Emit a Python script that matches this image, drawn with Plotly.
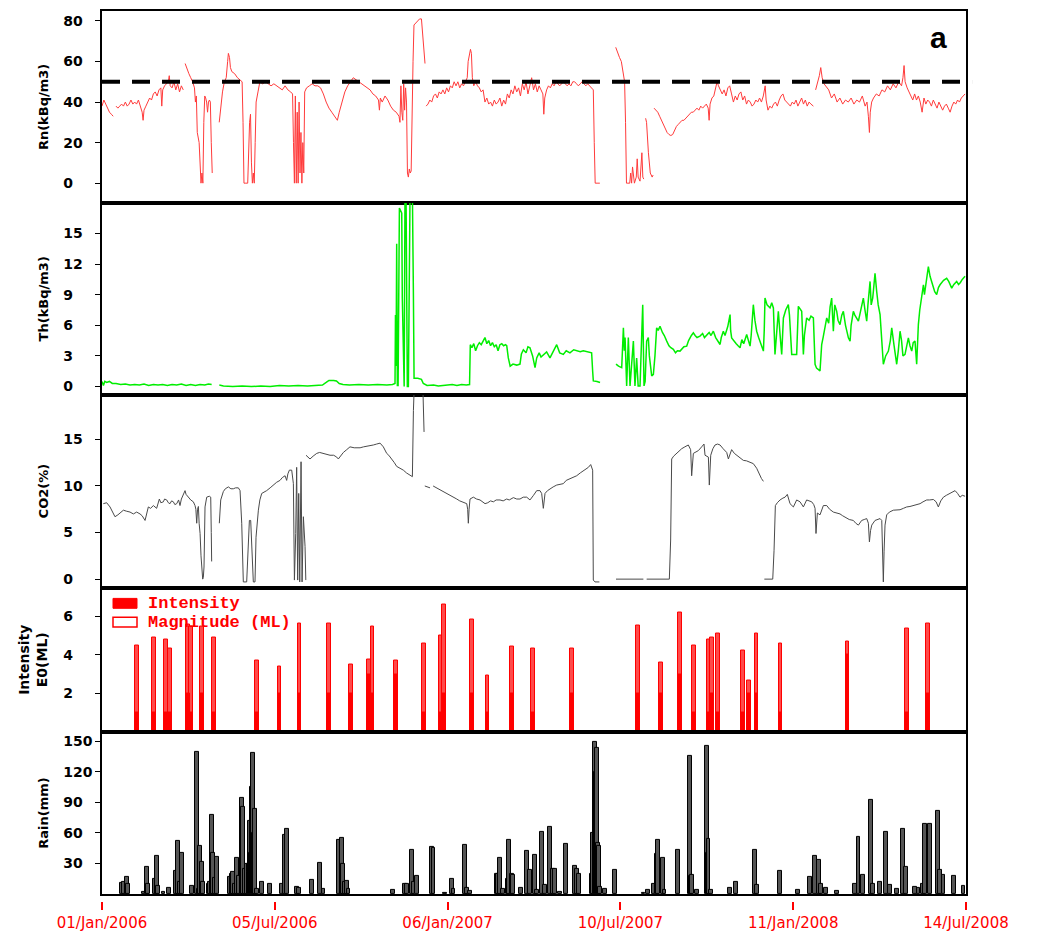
import plotly.graph_objects as go
import pandas as pd

START = pd.Timestamp("2006-01-01")
END = pd.Timestamp("2008-07-14")
DAY_MS = 86400000

# ---------------- data (day offset from 01/Jan/2006, value) ----------------
rn_points = [
(0,38),(2,41),(4,39),(6,37),(8,35),(10,34),(12,33),(13,None),
(15,38),(17,37),(19,38),(21,39),(23,38),(25,40),(27,38),(29,39),(31,41),(33,39),(35,40),(37,39),(39,41),(41,38),(43,35),(44,31),(45,36),(47,38),(49,40),(51,42),(53,41),(55,44),(57,45),(59,43),(61,46),(63,47),(64,38),(65,46),(67,48),(69,49),(71,50),(72,53),(73,48),(75,47),(77,50),(79,46),(81,49),(83,45),(85,48),(87,46),(88,None),
(89,59),(91,56),(93,54),(95,52),(97,50),(99,47),(100,40),(101,43),(102,25),(104,20),(106,0),(107,5),(108,0),(109,30),(110,43),(111,42),(112,40),(113,35),(114,40),(115,41),(116,40),(117,20),(118,5),(119,None),
(125.5,30),(127,38),(129,45),(131,50),(133,52),(134.5,60),(135.3,64),(136.5,62),(137.5,57),(139,55),(142,54),(145,52),(148,51),(150,50),(151,30),(152,0),(154,0),(156,0),(158,30),(159,34),(160,10),(161,0),(162,5),(163,0),(164,20),(165,40),(167,45),(169,50),(172,49),(175,50),(178,49),(181,48),(184,49),(187,48),(190,47),(193,46),(196,48),(199,46),(202,45),(204,44),(205,20),(206,0),(207,43),(208,0),(209,35),(210,0),(211,40),(212,5),(213,25),(214,0),(215,20),(216,5),(217,45),(219,47),(222,48),(225,49),(228,48),(231,48),(234,47),(237,44),(240,40),(243,37),(246,35),(249,33),(251,32),(252,31),(254,35),(256,38),(258,41),(260,45),(263,48),(266,50),(269,52),(272,51),(275,50),(278,49),(281,48),(284,47),(287,46),(290,44),(293,43),(296,41),(297,36),(298,42),(300,40),(303,43),(306,41),(309,38),(312,36),(315,35),(318,33),(319,30),(320,48),(321,35),(322,31),(323,49),(324,36),(325,47),(326,40),(327,5),(328,3),(329,7),(330,5),(331,6),(332,40),(333,60),(334,78),(336,79),(338,80),(340,81),(342,81),(343,75),(344,68),(345,62),(345.8,59),(346.2,None),
(347,38),(349,39),(351,41),(353,40),(355,43),(357,44),(359,42),(361,45),(363,44),(365,46),(367,44),(369,47),(371,45),(373,48),(375,47),(377,50),(379,48),(381,50),(383,47),(385,49),(387,48),(389,50),(391,52),(392,60),(393,62),(394.5,66),(395.5,64),(396.5,52),(398,48),(400,50),(402,48),(404,47),(406,45),(408,46),(410,40),(412,42),(414,39),(416,40),(418,38),(420,41),(422,39),(424,40),(426,42),(428,38),(430,41),(432,39),(434,44),(436,42),(438,46),(440,44),(442,48),(444,45),(446,47),(448,43),(450,49),(452,46),(454,50),(456,44),(458,48),(460,52),(462,46),(464,49),(466,45),(468,48),(470,46),(472,44),(473,34),(474,42),(476,46),(478,48),(480,47),(482,49),(484,48),(486,50),(488,49),(490,48),(492,49),(494,50),(496,49),(498,48),(500,49),(502,48),(504,50),(506,50),(508,49),(510,48),(512,49),(514,50),(516,49),(518,48),(520,49),(522,48),(524,47),(526,46),(527,20),(528,0),(530,0),(532,0),(533,0),(534,None),
(550,67),(552,64),(554,62),(556,60),(558,55),(559.5,50),(560.5,30),(561.5,0),(563,0),(565,0),(566,5),(567,0),(568,8),(569,3),(570,0),(572,3),(573,12),(574,3),(576,1),(578,15),(579,3),(580,2),(581,None),
(582,32),(583,30),(585,15),(587,5),(589,3),(590,4),(590.6,None),
(591,37),(593,36),(595,35),(597,33),(599,31),(601,29),(603,27),(605,25),(607,24),(609,23.5),(611,24),(613,26),(615,28),(617,29),(619,30),(621,31),(623,31),(625,32),(627,33),(629,34),(631,35),(633,35),(635,36),(637,37),(639,36),(641,38),(643,37),(645,38),(647,39),(649,37),(650,31),(651,39),(653,42),(655,43),(657,47),(658.5,50),(660,48),(662,46),(664,44),(666,46),(668,43),(670,47),(672,48),(674,44),(676,40),(678,43),(680,41),(682,44),(684,45),(686,41),(688,43),(690,39),(692,41),(694,40),(696,38),(698,39),(700,41),(702,40),(704,42),(706,40),(708,43),(710,48),(711,41),(713,36),(715,38),(717,37),(719,39),(721,40),(723,38),(725,41),(727,43),(729,44),(731,41),(733,40),(735,39),(737,38),(739,40),(741,39),(743,41),(745,38),(747,40),(749,42),(751,39),(753,41),(755,38),(757,40),(759,39),(761.6,38),(762.5,None),
(764,46),(766,49),(768,53),(769.5,57),(771,52),(773,49),(775,48),(778,46),(781,42),(784,44),(787,40),(790,42),(793,39),(796,41),(799,40),(802,42),(805,39),(808,41),(811,40),(814,43),(817,38),(819,40),(820.5,33),(821.6,25),(822.5,35),(824,40),(826,42),(829,44),(832,43),(835,46),(838,45),(841,48),(844,46),(847,49),(850,47),(853,50),(856,48),(857.5,52),(858.7,58),(859.8,50),(862,47),(864,45),(866,43),(868,41),(870,44),(872,41),(874,43),(876,40),(878,35),(880,42),(882,39),(884,41),(886,40),(888,38),(890,41),(892,39),(894,37),(896,40),(898,38),(900,36),(902,38),(904,39),(906,37),(908,35),(910,38),(912,40),(914,39),(916,41),(918,40),(920,42),(922,43),(924,44),
]
rn_threshold = 50

th_points = [
(0,0.5),(1.5,0.1),(3,0.5),(5,0.4),(8,0.5),(11,0.3),(15,0.3),(20,0.2),(25,0.25),(30,0.15),(35,0.2),(40,0.15),(45,0.25),(50,0.1),(55,0.2),(60,0.15),(65,0.2),(70,0.1),(75,0.2),(80,0.15),(85,0.25),(90,0.1),(95,0.2),(100,0.1),(105,0.2),(110,0.15),(114,0.25),(117.4,0.2),(118,None),
(125.6,0.15),(130,0.05),(140,0.0),(150,0.05),(160,0.0),(170,0.05),(180,0.0),(190,0.1),(200,0.05),(210,0.1),(220,0.05),(230,0.1),(236,0.15),(240,0.4),(243,0.6),(248,0.6),(251,0.55),(254,0.3),(258,0.2),(265,0.15),(275,0.2),(285,0.15),(295,0.2),(305,0.15),(311,0.2),(313.7,0.3),(314.2,7),(314.8,2),(315.5,14),(316.2,0.1),(317,0.1),(318.4,17.5),(319.5,17.3),(320.9,17),(321.5,8.7),(322.7,0),(323.5,0),(324.4,19),(325.5,19),(326.9,0),(328,0),(329.8,19),(331,19),(332.3,19),(333.4,9),(334.1,0.8),(338,0.8),(342,0.7),(344,0.3),(348,0.1),(355,0.15),(360,0.05),(365,0.1),(370,0.15),(375,0.2),(380,0.1),(385,0.2),(390,0.15),(393.5,0.2),(394.3,4.1),(396,3.8),(398,4.2),(400,3.5),(402,4.0),(404,4.3),(406,4.1),(408,4.5),(410,4.8),(412,4.2),(414,4.5),(416,4.0),(418,4.3),(420,3.9),(422,4.1),(424,3.5),(426,4.1),(428,4.2),(430,4.0),(432,4.1),(433.3,4.0),(435,2.8),(437,2.0),(440,2.2),(444,2.1),(447.5,2.2),(449,3.2),(451.1,3.6),(454,3.3),(456,3.9),(458.2,3.8),(461,3.0),(463.6,1.85),(465.4,2.8),(468,3.3),(470,2.9),(472.5,3.15),(476,3.4),(479.6,2.8),(483,3.5),(486.8,4.1),(490,3.3),(493.9,3.15),(497,3.5),(501,3.3),(505,3.6),(508.2,3.5),(512,3.4),(515.3,3.5),(520,3.4),(524.2,3.3),(525.3,1.5),(526,0.55),(530,0.5),(533.2,0.4),(534,None),
(550.3,2.2),(553,2.0),(556.4,1.85),(558.2,5.75),(559.2,3.5),(560,4.8),(561.7,0.06),(563.5,4.8),(565.3,0.06),(567.1,2.5),(568.9,4.45),(570.6,0.06),(572.4,2.8),(574,0.06),(576,0.06),(578.9,8.0),(580.3,0.06),(581.5,0.5),(583.1,4.45),(584.9,4.8),(586,3.0),(588.5,1.04),(590.3,1.2),(592,3.0),(593.8,5.75),(595.5,5.5),(597.4,5.9),(600,5.3),(602,5.0),(604.6,4.45),(607,4.0),(609,3.8),(611.7,3.64),(614,3.3),(616,3.5),(618.8,3.47),(621,3.7),(623,3.9),(626,3.96),(628,4.5),(631,5.0),(633.1,5.26),(635,5.0),(637,4.8),(640.2,4.94),(643,5.2),(645,4.8),(647.4,5.1),(650,5.3),(652,5.0),(654.5,5.42),(657,4.8),(659,4.5),(661.7,4.12),(663,4.8),(665.2,5.42),(667,5.0),(670,5.9),(672.4,7.05),(673,5.5),(674.1,4.77),(676,4.5),(679,4.2),(681,4.0),(683.1,3.8),(685,4.6),(687,4.2),(690.2,5.1),(692,4.5),(693.8,3.96),(695,5.0),(696.5,6.5),(697.3,8.02),(699,6.5),(700.9,5.42),(703,4.8),(705,4.2),(708.1,3.47),(709,5.5),(709.8,8.67),(712,8.0),(715.2,7.7),(717,8.2),(718.8,7.7),(720.5,3.15),(722,5.0),(724.1,7.37),(726,5.0),(727.7,3.15),(729.5,6.72),(732,7.5),(734.8,8.02),(736,7.0),(738.4,3.15),(741,3.15),(743.7,3.15),(745.5,7.86),(747,7.6),(749.1,7.37),(750.9,3.15),(752,5.0),(754.4,6.72),(757,6.5),(759,6.9),(761.6,6.72),(763.4,2.18),(765,1.8),(768.7,1.53),(770.5,4.12),(772,4.8),(775.9,6.72),(778,6.2),(779.5,7.8),(781.2,8.67),(783,5.42),(784.5,8.0),(786.6,7.37),(788,6.5),(790.1,6.07),(792,7.0),(793.7,7.37),(796,6.0),(799.1,4.77),(800.9,4.45),(802,6.0),(804.4,7.37),(806,7.0),(809.8,6.4),(812,7.5),(815.1,8.67),(817,7.4),(818.7,6.4),(820,8.0),(822.3,10.3),(823.5,8.0),(825.1,8.67),(826,9.5),(827.6,11.1),(829.4,9.3),(831,8.0),(833,7.05),(834.5,4.5),(836.5,2.18),(839,3.0),(841.9,3.47),(844,4.5),(845.5,5.75),(848,4.0),(850.8,2.18),(852.5,3.5),(854.4,5.42),(856,4.5),(857.5,3.0),(859.7,3.15),(861.5,4.0),(863.3,4.77),(865,4.0),(866.9,3.47),(868.5,4.3),(870.4,4.45),(872.2,2.18),(874,6.07),(875.5,7.5),(877.6,8.67),(879.4,9.97),(880.5,9.0),(882.5,10.5),(884.7,11.75),(886.5,10.8),(888.3,10.3),(890,9.8),(891.5,9.3),(893.6,9.0),(895.5,9.7),(897.2,9.97),(899,10.2),(901,10.4),(904.3,10.6),(906.5,10.3),(909.7,9.64),(912,10.0),(915,10.3),(917,10.0),(919,10.2),(921,10.5),(924,10.8),
]

co2_points = [
(1.4,8.1),(5,8.2),(8.6,7.75),(11,7.2),(13.9,6.7),(17,6.9),(20,7.2),(22.9,7.4),(26,7.3),(30,7.2),(33.6,7.0),(37.1,7.2),(40.7,7.0),(43,6.8),(46.1,6.3),(48,7.2),(49.6,7.75),(52,7.6),(55,7.9),(58.5,7.6),(60,8.2),(61.4,8.6),(63,8.2),(65.7,8.3),(67,8.6),(69.3,8.5),(71,8.2),(72.8,8.1),(74.5,8.4),(76.4,8.3),(78,8.0),(80,8.1),(82,8.5),(83.5,7.9),(85,8.6),(86.4,9.0),(88,9.4),(88.9,9.5),(90,9.1),(92.4,8.8),(95,8.5),(97.8,8.3),(99.6,7.9),(100.5,7.5),(101.4,6.0),(102.3,7.5),(103.2,7.8),(104,6.0),(105,4.9),(106,2.5),(106.7,1.0),(107.8,0.0),(108.5,0.2),(109.2,1.3),(110.3,7.75),(112.1,8.8),(114.9,8.9),(116.4,8.8),(117,5.0),(117.4,1.9),(118,None),
(125.6,6.0),(126.5,7.5),(127.1,8.5),(129.9,9.4),(132,9.7),(135.3,9.9),(138,9.7),(140.6,9.7),(143,9.8),(146,9.8),(147.8,9.5),(149.6,6.0),(150.5,2.0),(151.3,-0.3),(154.9,-0.3),(156.7,3.8),(157.8,6.3),(159.2,6.3),(160.6,1.7),(162,-0.3),(163.8,-0.3),(164.9,4.5),(167.4,7.4),(169,8.5),(171,9.2),(173,9.3),(176.3,9.5),(180,9.8),(183.5,10.1),(187,10.4),(190.6,10.6),(193,10.9),(196,11.1),(197.7,10.6),(199,11.3),(200.6,11.7),(203.1,11.7),(204.9,10.25),(206,-0.1),(207.4,4.9),(208.4,12.0),(209.5,-0.1),(210.6,9.2),(211.7,-0.3),(213.1,12.6),(214.2,-0.3),(215.6,6.7),(217.4,3.5),(218.2,-0.1),(218.3,None),
(218.4,13.3),(220.5,13.1),(222.7,12.9),(226,13.2),(229.9,13.5),(233,13.6),(237,13.5),(240,13.4),(244.1,13.3),(248,13.3),(251.3,13.1),(253,12.9),(255,13.2),(258.4,13.6),(262,13.9),(265.5,14.2),(270,14.1),(276.3,14.1),(280,14.2),(283.4,14.25),(287,14.3),(290.5,14.4),(294,14.5),(297.7,14.6),(301.2,14.2),(304.8,13.5),(307,13.3),(310.2,12.9),(313,12.5),(315.5,12.1),(319,11.9),(322.6,11.7),(326,11.4),(329.8,11.1),(332.3,11.0),(333.4,18.1),(334.4,21),(343.4,21),(344.1,18.0),(344.8,15.8),(345.2,None),
(345.6,10.0),(348,9.9),(351.2,9.8),(353,None),(354.5,10.0),(358.3,9.8),(362,9.6),(365.5,9.4),(369,9.2),(372.6,9.0),(376,8.8),(379.8,8.6),(383,8.4),(386.9,8.2),(390.5,8.1),(391.5,7.5),(392.2,6.0),(393,7.5),(394,8.6),(397.6,8.8),(401,8.6),(404.7,8.5),(407,8.3),(410.1,8.1),(413,8.2),(416,8.4),(419,8.3),(422,8.5),(426.1,8.5),(429.5,8.4),(433.2,8.6),(436,8.5),(440.4,8.75),(444,8.6),(447.5,8.6),(451,8.8),(454.7,8.8),(458.2,8.5),(462,9.0),(465.4,9.5),(468.9,9.5),(470.7,9.2),(472.5,7.6),(474.3,9.2),(477,9.5),(479.6,9.7),(483,9.9),(486.8,10.1),(490,10.2),(493.9,10.25),(497,10.6),(501,10.8),(504,10.9),(508.2,11.1),(512,11.4),(515.3,11.6),(518,11.8),(520.7,12.0),(523.2,12.3),(525.3,11.7),(526,-0.1),(527.8,-0.3),(532.5,-0.3),(533,None),
(550.3,0),(579.6,0),(580,None),(583.1,0),(607.4,0),(608.8,4.2),(609.9,12.9),(612,13.2),(615.3,13.5),(618,13.8),(620.6,14.0),(624,14.2),(627.7,14.4),(630.2,13.9),(631.3,11.1),(633.1,13.5),(636,13.7),(638.5,13.8),(642,14.2),(644.5,14.5),(645.6,13.3),(649.2,13.1),(650.2,10.1),(651.7,13.3),(654,14.0),(656.3,14.4),(659,14.5),(661.7,14.4),(665,14.0),(668.8,13.6),(670.6,12.9),(674.1,13.9),(677,13.5),(679.5,13.3),(683,13.0),(686.6,12.75),(690,12.7),(692,12.6),(695,12.5),(697.3,12.4),(700.9,11.9),(704.5,11.1),(706,10.8),(708.1,10.5),(708.6,None),
(709.1,0),(718.1,0),(719.5,3.1),(720.9,7.9),(723,8.2),(725.9,8.5),(729,8.7),(731.3,8.8),(733.7,9.1),(736.6,8.1),(740.2,7.75),(743.7,8.5),(747.3,8.3),(750.9,7.75),(754.4,8.5),(757,8.4),(759.8,8.3),(762,8.0),(763.4,7.6),(764.4,4.9),(765.9,7.1),(768.7,6.9),(772.3,7.9),(775.9,7.9),(779,7.5),(783,7.2),(786,7.1),(790.1,7.0),(793,6.8),(797.3,6.5),(800,6.4),(804.4,6.3),(807,6.0),(809.8,5.8),(813.3,6.3),(816,6.4),(818.7,6.5),(820.5,6.0),(821.6,4.0),(822.8,5.2),(824.1,5.8),(827.6,6.3),(830,6.4),(833,6.5),(834.8,6.3),(836.5,-0.3),(837.3,3.0),(838.3,5.8),(840.1,6.9),(843,7.2),(847.2,7.4),(851,7.4),(854.4,7.45),(858,7.6),(861.5,7.75),(865,7.8),(868.7,7.9),(872,8.0),(875.8,8.1),(879,8.3),(882.9,8.5),(886,8.5),(890.1,8.55),(893,8.3),(895.4,7.75),(898,8.4),(900.8,8.8),(904,9.0),(907.9,9.2),(911,9.3),(913.3,9.5),(916,9.2),(918.6,8.8),(921,9.0),(924,8.9),
]

# earthquakes: day, magnitude (ML), intensity E0
eq_days = [37.8,55.7,68.2,72.8,91.7,95.3,106.7,119.9,166.3,189.9,211.3,243.1,266.6,286.2,289.5,314.4,344.8,363,365.8,396.2,412.6,438.6,461.4,502.8,573.5,598.1,618.8,633.5,649.2,652.7,659.2,686.6,692.7,700.6,726.3,798,862.2,884.4]
eq_magnitude = [4.5,4.9,4.8,4.35,5.6,5.5,5.5,4.9,3.7,3.4,5.65,5.65,3.5,3.75,5.45,3.7,4.6,5.0,6.6,5.85,2.95,4.45,4.35,4.35,5.55,3.6,6.2,4.5,4.8,4.9,5.1,4.25,2.65,5.1,4.6,4.7,5.35,5.65]
eq_intensity = [1,1,1,1,2,1,2,1,1,2,2,2,2,3,2,3,1,1,2,2,1,2,1,2,2,2,3,1,1,2,1,1,2,2,1,4,1,2]

rain_points = [
(21.1,11),(23.6,12),(26.4,17),(28.2,10),(44.3,2),(47.8,27),(49.6,10),(56.8,15),(58.5,37),(60.3,8),(65.7,2),(72.1,6),(79.2,23),(81.7,52),(83.5,12),(86,40),(96,8),(101.4,139),(103.2,5),(105,47),(106.7,32),(108.5,12),(113.9,10),(115.6,12),(117.4,78),(119.2,40),(121,16),(123.5,36),
(137.1,17),(138.5,20),(140.6,22),(142.5,10),(144.9,35),(147,18),(149.6,94),(151.3,85),(153,25),(154.9,30),(156.7,30),(157.6,22),(158.5,72),(159.4,40),(160.3,105),(161.3,138),(162.5,60),(163.8,84),(165.6,5),(171,12),(179.9,10),(192.4,10),(196,58),(197.7,64),(208.4,7),(210.9,6),(224.5,14),(233.4,31),(237,5),(254.1,53),(256.6,55),(258.4,30),(260,12),(262,13),(263.8,5),
(311.2,4),(324.4,10),(326.9,10),(331.6,43),(333.4,12),(336.9,18),(353,46),(354.8,45),(367.3,1),(374.4,15),(376.2,5),(388.7,48),(390.5,6),(394,3),(422.6,20),(424,20),(426.1,35),(429.7,5),(434,15),(436.1,53),(438.6,20),(440.4,18.6),(448.2,5.7),(454.7,42),(458.2,23.5),(463.6,38),(465.4,4),(470.7,61),(474.3,9),(479.6,66),(483.2,25),(485,25),(490.3,2.4),(496.4,49.5),(506.4,28),(508.9,25),(511,20),
(524.2,20),(526,60),(527.8,149),(528.8,120),(529.6,143),(530.8,50),(532.1,47),(533.2,7),(538.5,4.6),(549.2,24),(579.6,1.5),(584.9,4),(590.3,10),(593.8,39),(595.6,53),(600.3,35),(602.1,4),(617,43),(629.5,135),(630.4,18),(631.3,19),(636.7,4),(647.4,145),(648.3,40),(649.2,54),(651.7,4),(672.4,5.7),(678.8,12),(699.1,43),(700.9,9),(725.9,22.5),(745.5,4),(758,16.4),(763.4,37.5),(768,34),(769.8,10),(775.2,6.3),(786.6,3),(806.2,9.6),(809.8,56),(815.1,19),(823,92),(825.1,10),(833,12),(839,61),(843.6,9),(850.8,5),(857.9,64),(860.8,27),(870.4,7),(874,6.5),(878.6,10),(881.2,69),(886.5,69),(895.4,82),(897.2,23.5),(900.8,18.6),(912.2,18),(922.2,8.3),
]

date_ticks = ["2006-01-01", "2006-07-05", "2007-01-06", "2007-07-10", "2008-01-11", "2008-07-14"]
date_ticktext = ["01/Jan/2006", "05/Jul/2006", "06/Jan/2007", "10/Jul/2007", "11/Jan/2008", "14/Jul/2008"]

rn_ticks = [0, 20, 40, 60, 80]
th_ticks = [0, 3, 6, 9, 12, 15]
co2_ticks = [0, 5, 10, 15]
eq_ticks = [2, 4, 6]
rain_ticks = [30, 60, 90, 120, 150]

# ---------------- helpers ----------------
def to_dates(days):
    return [START + pd.Timedelta(days=d) for d in days]

def split(points):
    d = [p[0] for p in points]
    v = [p[1] for p in points]
    return to_dates(d), v

def padded(ticks):
    # tick labels are left-aligned in the original: pad with figure spaces
    out = []
    for t in ticks:
        s = str(t)
        out.append(s + "\u2007" * (3 - len(s)) + "\u200b")
    return out

fig = go.Figure()

x, y = split(rn_points)
fig.add_trace(go.Scatter(x=x, y=y, mode="lines", line=dict(color="#ff3b3b", width=1),
                         xaxis="x", yaxis="y", connectgaps=False, showlegend=False))
x, y = split(th_points)
fig.add_trace(go.Scatter(x=x, y=y, mode="lines", line=dict(color="#00ee00", width=1.5),
                         xaxis="x2", yaxis="y2", connectgaps=False, showlegend=False))
x, y = split(co2_points)
fig.add_trace(go.Scatter(x=x, y=y, mode="lines", line=dict(color="#4a4a4a", width=1),
                         xaxis="x3", yaxis="y3", connectgaps=False, showlegend=False))

eq_x = to_dates(eq_days)
fig.add_trace(go.Bar(x=eq_x, y=eq_magnitude, width=4.0 * DAY_MS, name="Magnitude (ML)",
                     marker=dict(color="#ff4a4a", line=dict(color="#ff0000", width=1)),
                     xaxis="x4", yaxis="y4", showlegend=False))
fig.add_trace(go.Bar(x=eq_x, y=eq_intensity, width=4.0 * DAY_MS, name="Intensity",
                     marker=dict(color="#ff0000", line=dict(color="#ff0000", width=1)),
                     xaxis="x4", yaxis="y4", showlegend=False))

x, y = split(rain_points)
fig.add_trace(go.Bar(x=x, y=y, width=4.0 * DAY_MS,
                     marker=dict(color="#555555", line=dict(color="#000000", width=1)),
                     xaxis="x5", yaxis="y5", showlegend=False))
# carrier for the date-tick axis
fig.add_trace(go.Scatter(x=[START, END], y=[None, None], mode="lines", xaxis="x6", yaxis="y5",
                         showlegend=False, hoverinfo="skip"))

# ---------------- layout ----------------
TOP_PX, AX_PX = 9, 909
H = AX_PX - TOP_PX
def frac(px):
    return (AX_PX - px) / H

bounds = [(9, 203), (203, 397), (397, 592), (592, 738), (738, 902)]
domains = [[frac(b), frac(t)] for t, b in bounds]

xrange_ = [START, END]
tick_font = dict(family="DejaVu Sans", size=14, color="black", weight="bold")
title_font = dict(family="DejaVu Sans", size=13, color="black", weight="bold")

def xax(anchor):
    return dict(type="date", range=xrange_, anchor=anchor, showline=True, mirror=True,
                linecolor="black", linewidth=1.5, showgrid=False, zeroline=False,
                showticklabels=False, ticks="")

def yax(anchor, dom, rng, ticks, title):
    return dict(domain=dom, range=rng, anchor=anchor, showline=True, mirror=True,
                linecolor="black", linewidth=1.5, showgrid=False, zeroline=False,
                tickmode="array", tickvals=ticks, ticktext=padded(ticks),
                ticks="outside", ticklen=5, tickwidth=1.2, tickcolor="black",
                tickfont=tick_font, title=dict(text=title, font=title_font, standoff=12))

layout = dict(
    width=1039, height=941,
    margin=dict(l=102, r=73, t=TOP_PX, b=941 - AX_PX),
    paper_bgcolor="white", plot_bgcolor="white",
    barmode="overlay", bargap=0,
    xaxis=xax("y"), xaxis2=xax("y2"), xaxis3=xax("y3"), xaxis4=xax("y4"), xaxis5=xax("y5"),
    xaxis6=dict(type="date", range=xrange_, overlaying="x5", anchor="free", position=0,
                showline=False, showgrid=False, zeroline=False,
                tickmode="array", tickvals=date_ticks, ticktext=date_ticktext,
                ticks="outside", ticklen=8, tickwidth=2, tickcolor="#ff0000",
                tickfont=dict(family="DejaVu Sans", size=15, color="#ff0000")),
    yaxis=yax("x", domains[0], [-9.7, 84.9], rn_ticks, "Rn(kBq/m3)"),
    yaxis2=yax("x2", domains[1], [-0.8, 18.0], th_ticks, "Th(kBq/m3)"),
    yaxis3=yax("x3", domains[2], [-0.9, 19.8], co2_ticks, "CO2(%)"),
    yaxis4=yax("x4", domains[3], [0, 7.5], eq_ticks, "Intensity<br>E0(ML)"),
    yaxis5=yax("x5", domains[4], [0, 159], rain_ticks, "Rain(mm)"),
)
fig.update_layout(**layout)
fig.layout.yaxis4.title.font.size = 14

# threshold line on Rn panel
fig.add_shape(type="line", xref="x domain", yref="y", x0=0, x1=1.007,
              y0=rn_threshold, y1=rn_threshold,
              line=dict(color="black", width=4, dash="18px,12px"))

# panel label
def px_x(px):
    return (px - 102) / 864
fig.add_annotation(text="a", xref="paper", yref="paper", x=px_x(938), y=frac(36),
                   xanchor="center", yanchor="middle", showarrow=False,
                   font=dict(family="Liberation Sans", size=30, color="black", weight="bold"))

# custom legend for the earthquake panel
fig.add_shape(type="rect", xref="paper", yref="paper", x0=px_x(113), x1=px_x(137),
              y0=frac(613), y1=frac(603), fillcolor="#ff0000", line=dict(color="#ff0000", width=1))
fig.add_shape(type="rect", xref="paper", yref="paper", x0=px_x(113), x1=px_x(137),
              y0=frac(632), y1=frac(622), fillcolor="white", line=dict(color="#ff0000", width=1.5))
legend_font = dict(family="Liberation Mono", size=17, color="#ff0000", weight="bold")
fig.add_annotation(text="Intensity", xref="paper", yref="paper", x=px_x(146), y=frac(608),
                   xanchor="left", yanchor="middle", showarrow=False, font=legend_font)
fig.add_annotation(text="Magnitude (ML)", xref="paper", yref="paper", x=px_x(146), y=frac(627),
                   xanchor="left", yanchor="middle", showarrow=False, font=legend_font)

fig.write_html("out.html", config={"displayModeBar": False},
               post_script="document.body.style.margin='0';")
